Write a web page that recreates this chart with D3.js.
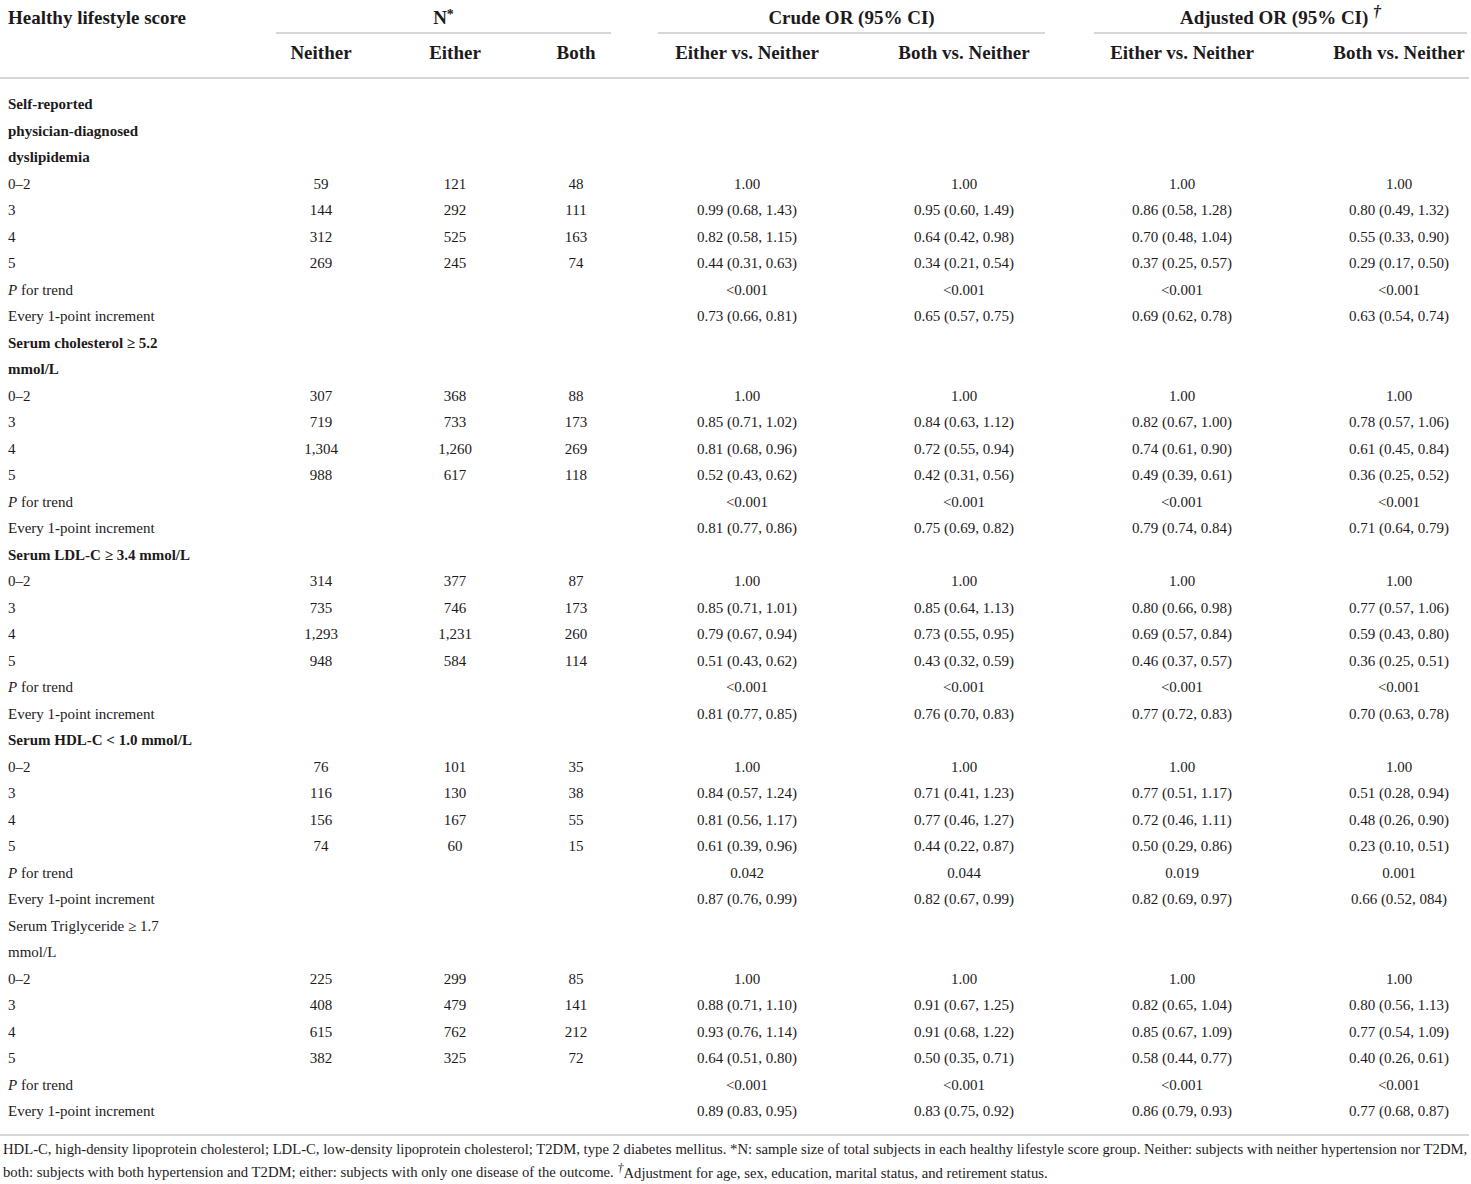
<!DOCTYPE html>
<html>
<head>
<meta charset="utf-8">
<script src="https://cdn.jsdelivr.net/npm/d3@7"></script>
<style>
  html, body { margin: 0; padding: 0; background: #fff; }
  svg { display: block; }
  text { font-family: "Liberation Serif", "Times New Roman", serif; fill: #1e1a1b; }
</style>
</head>
<body>
<svg id="chart" width="1471" height="1184"></svg>
<script>
// ---------------- DATA ----------------
const groupHeaders = ["N*", "Crude OR (95% CI)", "Adjusted OR (95% CI)"];
const columnHeaders = ["Neither", "Either", "Both", "Either vs. Neither", "Both vs. Neither", "Either vs. Neither", "Both vs. Neither"];
const scoreLabels = ["0–2", "3", "4", "5"];
const trendLabel = "P for trend";
const incrementLabel = "Every 1-point increment";

const outcomeTitles = [
  ["Self-reported", "physician-diagnosed", "dyslipidemia"],
  ["Serum cholesterol ≥ 5.2", "mmol/L"],
  ["Serum LDL-C ≥ 3.4 mmol/L"],
  ["Serum HDL-C < 1.0 mmol/L"],
  ["Serum Triglyceride ≥ 1.7", "mmol/L"]
];
const outcomeBold = [true, true, true, true, false];

// N (Neither, Either, Both) per score level
const nDyslipidemia = [[59, 121, 48], [144, 292, 111], [312, 525, 163], [269, 245, 74]];
const nCholesterol  = [[307, 368, 88], [719, 733, 173], [1304, 1260, 269], [988, 617, 118]];
const nLDL          = [[314, 377, 87], [735, 746, 173], [1293, 1231, 260], [948, 584, 114]];
const nHDL          = [[76, 101, 35], [116, 130, 38], [156, 167, 55], [74, 60, 15]];
const nTriglyceride = [[225, 299, 85], [408, 479, 141], [615, 762, 212], [382, 325, 72]];

// OR (crude either, crude both, adjusted either, adjusted both) per score level, then P trend, then per-point
const orDyslipidemia = [
  ["1.00", "1.00", "1.00", "1.00"],
  ["0.99 (0.68, 1.43)", "0.95 (0.60, 1.49)", "0.86 (0.58, 1.28)", "0.80 (0.49, 1.32)"],
  ["0.82 (0.58, 1.15)", "0.64 (0.42, 0.98)", "0.70 (0.48, 1.04)", "0.55 (0.33, 0.90)"],
  ["0.44 (0.31, 0.63)", "0.34 (0.21, 0.54)", "0.37 (0.25, 0.57)", "0.29 (0.17, 0.50)"],
  ["<0.001", "<0.001", "<0.001", "<0.001"],
  ["0.73 (0.66, 0.81)", "0.65 (0.57, 0.75)", "0.69 (0.62, 0.78)", "0.63 (0.54, 0.74)"]
];
const orCholesterol = [
  ["1.00", "1.00", "1.00", "1.00"],
  ["0.85 (0.71, 1.02)", "0.84 (0.63, 1.12)", "0.82 (0.67, 1.00)", "0.78 (0.57, 1.06)"],
  ["0.81 (0.68, 0.96)", "0.72 (0.55, 0.94)", "0.74 (0.61, 0.90)", "0.61 (0.45, 0.84)"],
  ["0.52 (0.43, 0.62)", "0.42 (0.31, 0.56)", "0.49 (0.39, 0.61)", "0.36 (0.25, 0.52)"],
  ["<0.001", "<0.001", "<0.001", "<0.001"],
  ["0.81 (0.77, 0.86)", "0.75 (0.69, 0.82)", "0.79 (0.74, 0.84)", "0.71 (0.64, 0.79)"]
];
const orLDL = [
  ["1.00", "1.00", "1.00", "1.00"],
  ["0.85 (0.71, 1.01)", "0.85 (0.64, 1.13)", "0.80 (0.66, 0.98)", "0.77 (0.57, 1.06)"],
  ["0.79 (0.67, 0.94)", "0.73 (0.55, 0.95)", "0.69 (0.57, 0.84)", "0.59 (0.43, 0.80)"],
  ["0.51 (0.43, 0.62)", "0.43 (0.32, 0.59)", "0.46 (0.37, 0.57)", "0.36 (0.25, 0.51)"],
  ["<0.001", "<0.001", "<0.001", "<0.001"],
  ["0.81 (0.77, 0.85)", "0.76 (0.70, 0.83)", "0.77 (0.72, 0.83)", "0.70 (0.63, 0.78)"]
];
const orHDL = [
  ["1.00", "1.00", "1.00", "1.00"],
  ["0.84 (0.57, 1.24)", "0.71 (0.41, 1.23)", "0.77 (0.51, 1.17)", "0.51 (0.28, 0.94)"],
  ["0.81 (0.56, 1.17)", "0.77 (0.46, 1.27)", "0.72 (0.46, 1.11)", "0.48 (0.26, 0.90)"],
  ["0.61 (0.39, 0.96)", "0.44 (0.22, 0.87)", "0.50 (0.29, 0.86)", "0.23 (0.10, 0.51)"],
  ["0.042", "0.044", "0.019", "0.001"],
  ["0.87 (0.76, 0.99)", "0.82 (0.67, 0.99)", "0.82 (0.69, 0.97)", "0.66 (0.52, 084)"]
];
const orTriglyceride = [
  ["1.00", "1.00", "1.00", "1.00"],
  ["0.88 (0.71, 1.10)", "0.91 (0.67, 1.25)", "0.82 (0.65, 1.04)", "0.80 (0.56, 1.13)"],
  ["0.93 (0.76, 1.14)", "0.91 (0.68, 1.22)", "0.85 (0.67, 1.09)", "0.77 (0.54, 1.09)"],
  ["0.64 (0.51, 0.80)", "0.50 (0.35, 0.71)", "0.58 (0.44, 0.77)", "0.40 (0.26, 0.61)"],
  ["<0.001", "<0.001", "<0.001", "<0.001"],
  ["0.89 (0.83, 0.95)", "0.83 (0.75, 0.92)", "0.86 (0.79, 0.93)", "0.77 (0.68, 0.87)"]
];

const footnoteLine1 = "HDL-C, high-density lipoprotein cholesterol; LDL-C, low-density lipoprotein cholesterol; T2DM, type 2 diabetes mellitus. *N: sample size of total subjects in each healthy lifestyle score group. Neither: subjects with neither hypertension nor T2DM,";
const footnoteLine2a = "both: subjects with both hypertension and T2DM; either: subjects with only one disease of the outcome. ";
const footnoteLine2b = "Adjustment for age, sex, education, marital status, and retirement status.";

// ---------------- BUILD ROWS ----------------
const nTables = [nDyslipidemia, nCholesterol, nLDL, nHDL, nTriglyceride];
const orTables = [orDyslipidemia, orCholesterol, orLDL, orHDL, orTriglyceride];
const fmtN = d3.format(",");

const rows = [];
outcomeTitles.forEach((titleLines, k) => {
  titleLines.forEach(t => rows.push({ type: "title", label: t, bold: outcomeBold[k] }));
  scoreLabels.forEach((s, i) => rows.push({
    type: "data", label: s,
    cells: nTables[k][i].map(fmtN).concat(orTables[k][i])
  }));
  rows.push({ type: "trend", label: trendLabel, cells: ["", "", ""].concat(orTables[k][4]) });
  rows.push({ type: "data", label: incrementLabel, cells: ["", "", ""].concat(orTables[k][5]) });
});

// ---------------- SCALES ----------------
const svg = d3.select("#chart");
const y = d3.scaleLinear().domain([0, rows.length - 1]).range([104, 1111]);
const colX = d3.scaleOrdinal().domain(d3.range(7)).range([321, 455, 576, 747, 964, 1182, 1399]);
const groupSpan = d3.scaleOrdinal().domain(d3.range(3)).range([[276, 611], [658, 1045], [1094, 1467]]);

const ruleColor = "#d6d6d6";
const bodySize = 15;
const headSize = 19;
const footSize = 14.7;

// ---------------- HEADER ----------------
svg.append("text").attr("x", 8).attr("y", 17).attr("dy", "0.35em")
  .attr("font-size", headSize).attr("font-weight", "bold")
  .text("Healthy lifestyle score");

const gh = svg.selectAll("g.grouphead").data(groupHeaders).join("g").attr("class", "grouphead");
gh.each(function(d, i) {
  const span = groupSpan(i);
  const cx = (span[0] + span[1]) / 2;
  const g = d3.select(this);
  const t = g.append("text").attr("x", cx).attr("y", 17).attr("dy", "0.35em")
    .attr("text-anchor", "middle").attr("font-size", headSize).attr("font-weight", "bold");
  if (i === 0) {
    t.append("tspan").text("N");
    t.append("tspan").attr("font-size", 14).attr("dy", "-0.3em").text("*");
  } else if (i === 2) {
    t.append("tspan").text("Adjusted OR (95% CI) ");
    t.append("tspan").attr("font-size", 16).attr("font-style", "italic").attr("dy", "-0.4em").text("†");
  } else {
    t.text(d);
  }
  g.append("line").attr("x1", span[0]).attr("x2", span[1]).attr("y1", 33).attr("y2", 33)
    .attr("stroke", ruleColor).attr("stroke-width", 2);
});

svg.selectAll("text.colhead").data(columnHeaders).join("text").attr("class", "colhead")
  .attr("x", (d, i) => colX(i)).attr("y", 52).attr("dy", "0.35em")
  .attr("text-anchor", "middle").attr("font-size", headSize).attr("font-weight", "bold")
  .text(d => d);

svg.append("line").attr("x1", 0).attr("x2", 1469).attr("y1", 78).attr("y2", 78)
  .attr("stroke", ruleColor).attr("stroke-width", 2);

// ---------------- BODY ----------------
const rowG = svg.selectAll("g.row").data(rows).join("g").attr("class", "row")
  .attr("transform", (d, i) => `translate(0,${y(i)})`);

rowG.each(function(d) {
  const g = d3.select(this);
  const lab = g.append("text").attr("x", 8).attr("dy", "0.35em").attr("font-size", bodySize)
    .attr("font-weight", d.type === "title" && d.bold ? "bold" : "normal");
  if (d.type === "trend") {
    lab.append("tspan").attr("font-style", "italic").text("P");
    lab.append("tspan").text(d.label.slice(1));
  } else {
    lab.text(d.label);
  }
  if (d.cells) {
    g.selectAll("text.cell").data(d.cells).join("text").attr("class", "cell")
      .attr("x", (c, j) => colX(j)).attr("dy", "0.35em")
      .attr("text-anchor", "middle").attr("font-size", bodySize)
      .text(c => c);
  }
});

svg.append("line").attr("x1", 0).attr("x2", 1469).attr("y1", 1135).attr("y2", 1135)
  .attr("stroke", ruleColor).attr("stroke-width", 2);

// ---------------- FOOTNOTE ----------------
svg.append("text").attr("x", 3).attr("y", 1149).attr("dy", "0.35em").attr("font-size", footSize)
  .text(footnoteLine1);
const f2 = svg.append("text").attr("x", 3).attr("y", 1172).attr("dy", "0.35em").attr("font-size", footSize);
f2.append("tspan").text(footnoteLine2a);
f2.append("tspan").attr("font-style", "italic").attr("font-size", 12).attr("dy", "-0.4em").text("†");
f2.append("tspan").attr("dy", "0.4em").text(footnoteLine2b);
</script>
</body>
</html>
